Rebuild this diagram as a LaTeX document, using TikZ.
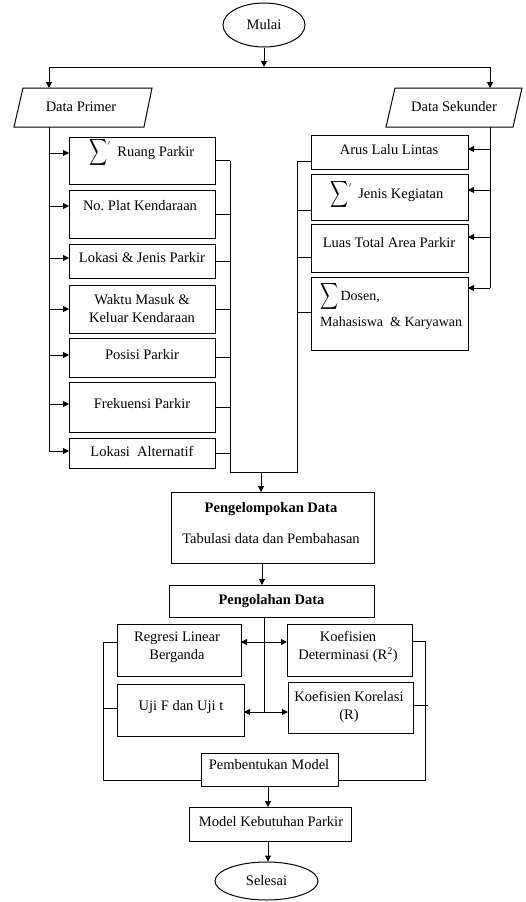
\documentclass[tikz,border=0pt]{standalone}
\usepackage{fontspec}
\usepackage{graphicx}
\setmainfont{Liberation Serif}
\usetikzlibrary{arrows.meta,shapes.geometric}
\newcommand\bigsig{\smash{\raisebox{-3pt}{\scalebox{1.25}[1.85]{$\displaystyle\sum$}}}}
\newcommand\sigtick{\smash{\raisebox{11pt}{$\scriptscriptstyle\prime$}}}
\begin{document}
\begin{tikzpicture}[x=1pt,y=-1pt,
 ln/.style={line width=1pt},
 arr/.style={line width=1pt,-{Triangle[length=6pt,width=6pt]}},
 box/.style={draw,line width=1pt,inner sep=0pt,outer sep=0pt},
 txt/.style={inner sep=0pt,font=\fontsize{14.5}{18}\selectfont,align=center},
 btxt/.style={inner sep=0pt,font=\fontsize{14.5}{18}\selectfont\bfseries,align=center},
 oval/.style={draw,ellipse,line width=1pt,inner sep=0pt,font=\fontsize{14.5}{18}\selectfont}]
\useasboundingbox (0,0) rectangle (526,902);

% start
\node[oval,minimum width=82pt,minimum height=44pt] (mulai) at (264,25) {Mulai};
\coordinate (split) at (264,67);
\coordinate (dptop) at (49,88);
\coordinate (dpbot) at (49,127);
\coordinate (dstop) at (490,88);
\coordinate (dsbot) at (490,127);
\draw[arr] (mulai) -- (split);
\draw[arr] (split) -| (dptop);
\draw[arr] (split) -| (dstop);

% parallelograms
\draw[ln] (23,88) -- (152,88) -- (144,127) -- (14,127) -- cycle;
\node[txt] (dp) at (81,107) {Data Primer};
\draw[ln] (395,88) -- (522,88) -- (513,127) -- (386,127) -- cycle;
\node[txt] (ds) at (454,107) {Data Sekunder};

% left boxes
\node[box,minimum width=146pt,minimum height=47pt] (b1) at (142,160.5) {};
\node[box,minimum width=146pt,minimum height=48pt] (b2) at (142,214) {};
\node[box,minimum width=146pt,minimum height=34pt] (b3) at (142,261) {};
\node[box,minimum width=146pt,minimum height=48pt] (b4) at (142,309) {};
\node[box,minimum width=146pt,minimum height=39pt] (b5) at (142,357.5) {};
\node[box,minimum width=146pt,minimum height=50pt] (b6) at (142,407) {};
\node[box,minimum width=146pt,minimum height=30pt] (b7) at (142,453) {};
\node[txt] (t1) at (142,153) {\bigsig\sigtick\enspace Ruang Parkir};
\node[txt] (t2) at (140,206) {No.\ Plat Kendaraan};
\node[txt] (t3) at (142,258) {Lokasi \& Jenis Parkir};
\node[txt] (t4) at (142,309) {Waktu Masuk \&\\Keluar Kendaraan};
\node[txt] (t5) at (142,355) {Posisi Parkir};
\node[txt] (t6) at (142,404) {Frekuensi Parkir};
\node[txt] (t7) at (142,451) {Lokasi\ \ Alternatif};

\draw[ln] (dpbot) -- (dpbot |- t7);
\foreach \i in {1,...,7}{\draw[arr] (dpbot |- t\i) -- (b\i.west |- t\i);}

% right boxes
\node[box,minimum width=157pt,minimum height=34pt] (r1) at (389.5,152) {};
\node[box,minimum width=157pt,minimum height=46pt] (r2) at (389.5,197) {};
\node[box,minimum width=157pt,minimum height=48pt] (r3) at (389.5,248) {};
\node[box,minimum width=157pt,minimum height=73pt] (r4) at (389.5,313.5) {};
\node[txt] (s1) at (389,150) {Arus Lalu Lintas};
\node[txt] (s2) at (387,195) {\bigsig\sigtick\enspace Jenis Kegiatan};
\node[txt] (s3) at (389,243) {Luas Total Area Parkir};
\node[txt,font=\fontsize{14}{18}\selectfont,align=left,anchor=west] (s4) at (320,310) {\bigsig\,Dosen,\\[8pt]Mahasiswa\ \ \& Karyawan};

\draw[ln] (dsbot) -- (dsbot |- 0,288);
\draw[arr] (dsbot |- 0,149) -- (r1.east |- 0,149);
\draw[arr] (dsbot |- 0,190) -- (r2.east |- 0,190);
\draw[arr] (dsbot |- 0,237) -- (r3.east |- 0,237);
\draw[arr] (dsbot |- 0,288) -- (r4.east |- 0,288);

% merge
\coordinate (lcb) at (230,472);
\coordinate (rcb) at (297,472);
\coordinate (jn) at (261,472);
\draw[ln] (b1.east -| lcb) -- (lcb) -- (rcb) -- (rcb |- 0,161);
\foreach \i in {1,...,7}{\draw[ln] (b\i.east) -- (b\i.east -| lcb);}
\draw[ln] (r1.west |- 0,161) -- (rcb |- 0,161);
\draw[ln] (r2.west |- 0,210) -- (rcb |- 0,210);
\draw[ln] (r3.west |- 0,257) -- (rcb |- 0,257);
\draw[ln] (r4.west |- 0,312) -- (rcb |- 0,312);

% pengelompokan
\node[box,minimum width=203pt,minimum height=71pt] (pk) at (272.5,527.5) {};
\node[btxt] (pk1) at (271,509) {Pengelompokan Data};
\node[txt] (pk2) at (271,539) {Tabulasi data dan Pembahasan};
\draw[arr] (jn) -- (pk.north -| jn);

\node[box,minimum width=205pt,minimum height=32pt,btxt] (po) at (271.5,601) {Pengolahan Data};
\draw[arr] (pk.south -| 262,0) -- (po.north -| 262,0);

% analysis boxes
\node[box,minimum width=124pt,minimum height=52pt] (reg) at (179,650) {};
\node[box,minimum width=125pt,minimum height=52pt] (kd) at (349.5,650) {};
\node[box,minimum width=127pt,minimum height=52pt] (uji) at (180.5,710) {};
\node[box,minimum width=125pt,minimum height=51pt] (kk) at (350.5,707.5) {};
\node[txt] (regt) at (177,647) {Regresi Linear\\Berganda};
\node[txt] (kdt) at (348,647) {Koefisien\\Determinasi (R\textsuperscript{2})};
\node[txt] (ujit) at (181,707) {Uji F dan Uji t};
\node[txt] (kkt) at (349,707) {Koefisien Korelasi\\(R)};

\coordinate (hub1) at (264,642);
\coordinate (hub2) at (264,712);
\draw[ln] (po.south -| hub1) -- (hub2);
\draw[arr] (hub1) -- (reg.east |- hub1);
\draw[arr] (hub1) -- (kd.west |- hub1);
\draw[arr] (hub2) -- (uji.east |- hub2);
\draw[arr] (hub2) -- (kk.west |- hub2);

\node[box,minimum width=137pt,minimum height=33pt] (pm) at (269.5,769.5) {};
\node[txt] (pmt) at (269,765) {Pembentukan Model};

\coordinate (lc) at (103,780);
\coordinate (rc) at (425,780);
\draw[ln] (reg.west |- 0,642) -- (lc |- 0,642) -- (lc) -- (pm.west |- lc);
\draw[ln] (uji.west |- 0,708) -- (lc |- 0,708);
\draw[ln] (kd.east |- 0,641) -- (rc |- 0,641) -- (rc) -- (pm.east |- rc);
\draw[ln] (kk.east |- 0,705) -- (428,705);

% end
\node[box,minimum width=162pt,minimum height=34pt] (mk) at (270,824) {};
\node[txt] (mkt) at (271,822) {Model Kebutuhan Parkir};
\node[oval,minimum width=103pt,minimum height=38pt] (sel) at (266.5,881) {Selesai};
\draw[arr] (pm.south -| 268,0) -- (mk.north -| 268,0);
\draw[arr] (mk.south -| 268,0) -- (sel.north -| 268,0);
\end{tikzpicture}
\end{document}
